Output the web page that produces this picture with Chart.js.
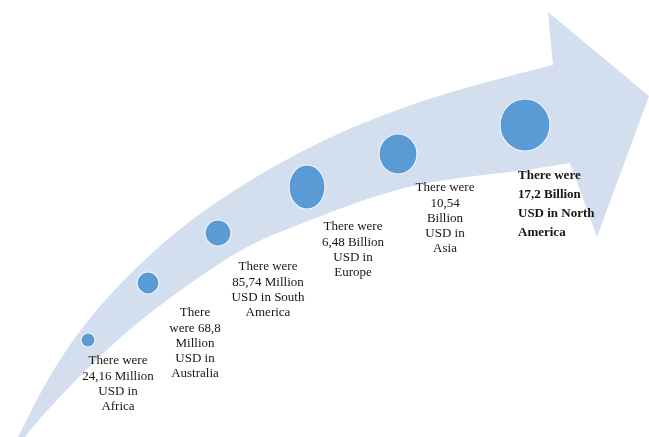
<!DOCTYPE html>
<html>
<head>
<meta charset="utf-8">
<script src="https://cdn.jsdelivr.net/npm/chart.js@4/dist/chart.umd.min.js"></script>
<style>
  html, body { margin: 0; padding: 0; background: #fff; }
  #wrap { width: 649px; height: 437px; }
</style>
</head>
<body>
<div id="wrap"><canvas id="c"></canvas></div>
<script>
// data
const regions = ['Africa', 'Australia', 'South America', 'Europe', 'Asia', 'North America'];
const amounts = ['24,16 Million', '68,8 Million', '85,74 Million', '6,48 Billion', '10,54 Billion', '17,2 Billion'];
const usdMillions = [24.16, 68.8, 85.74, 6480, 10540, 17200];
const labelLines = [
    ['There were', '24,16 Million', 'USD in', 'Africa'],
    ['There', 'were 68,8', 'Million', 'USD in', 'Australia'],
    ['There were', '85,74 Million', 'USD in South', 'America'],
    ['There were', '6,48 Billion', 'USD in', 'Europe'],
    ['There were', '10,54', 'Billion', 'USD in', 'Asia'],
    ['There were', '17,2 Billion', 'USD in North', 'America']
];

// layout (infographic placement along the arrow, in axis units)
const posX = [88, 148, 218, 307, 398, 525];
const posY = [340, 283, 233, 187, 154, 125];
const radX = [7, 11, 13, 18, 19, 25];
const radY = [7, 11, 13, 22, 20, 26];
const labelDx = [30, 47, 50, 46, 47, -7];
const labelDy = [21, 30, 34, 40, 34, 51];

const arrowUpper = [[12, 449], [20, 433], [50, 374], [87, 320], [133, 270], [187, 222],
    [250, 180], [300, 152], [350, 128], [420, 101], [490, 81], [553, 65]];
const arrowHead = [[548, 12], [649, 96], [597, 237], [570, 163]];
const arrowLower = [[520, 171], [440, 179], [373, 196], [300, 224], [250, 244], [200, 276],
    [140, 320], [100, 356], [63, 393], [27, 433], [18, 449]];

function ellipseImg(rx, ry) {
    const cv = document.createElement('canvas');
    cv.width = rx * 2 + 2;
    cv.height = ry * 2 + 2;
    const g = cv.getContext('2d');
    g.beginPath();
    g.ellipse(rx + 1, ry + 1, rx, ry, 0, 0, Math.PI * 2);
    g.fillStyle = '#5b9bd5';
    g.fill();
    g.lineWidth = 1.2;
    g.strokeStyle = '#eef3fa';
    g.stroke();
    return cv;
}

// smooth curve through a list of pixel points (quadratic via midpoints)
function smoothTo(ctx, p) {
    for (let i = 1; i < p.length - 1; i++) {
        const mx = (p[i][0] + p[i + 1][0]) / 2, my = (p[i][1] + p[i + 1][1]) / 2;
        ctx.quadraticCurveTo(p[i][0], p[i][1], mx, my);
    }
    ctx.lineTo(p[p.length - 1][0], p[p.length - 1][1]);
}

const arrowPlugin = {
    id: 'arrow',
    beforeDatasetsDraw(chart) {
        const { ctx, scales: { x, y } } = chart;
        const px = list => list.map(p => [x.getPixelForValue(p[0]), y.getPixelForValue(p[1])]);
        const up = px(arrowUpper), head = px(arrowHead), low = px(arrowLower);
        ctx.save();
        ctx.beginPath();
        ctx.moveTo(up[0][0], up[0][1]);
        smoothTo(ctx, up);
        head.forEach(p => ctx.lineTo(p[0], p[1]));
        ctx.lineTo(low[0][0], low[0][1]);
        smoothTo(ctx, low);
        ctx.closePath();
        ctx.fillStyle = '#d3deef';
        ctx.fill();
        ctx.restore();
    }
};

const labelPlugin = {
    id: 'labels',
    afterDatasetsDraw(chart) {
        const { ctx } = chart;
        const meta = chart.getDatasetMeta(0);
        ctx.save();
        ctx.fillStyle = '#161616';
        ctx.textBaseline = 'middle';
        meta.data.forEach((el, i) => {
            const last = i === labelLines.length - 1;
            ctx.font = (last ? 'bold ' : '') + '13px "Liberation Serif", "Times New Roman", serif';
            ctx.textAlign = last ? 'left' : 'center';
            const lh = last ? 19 : 15.2;
            labelLines[i].forEach((t, j) => {
                ctx.fillText(t, el.x + labelDx[i], el.y + labelDy[i] + j * lh);
            });
        });
        ctx.restore();
    }
};

new Chart(document.getElementById('c'), {
    type: 'bubble',
    data: {
        datasets: [{
            label: 'USD (millions)',
            data: usdMillions.map((v, i) => ({ x: posX[i], y: posY[i], r: radY[i], v: v, name: regions[i], amount: amounts[i] })),
            pointStyle: regions.map((r, i) => ellipseImg(radX[i], radY[i])),
            backgroundColor: '#5b9bd5'
        }]
    },
    options: {
        responsive: true,
        maintainAspectRatio: false,
        animation: false,
        layout: { padding: 0, autoPadding: false },
        plugins: { legend: { display: false }, tooltip: { enabled: false } },
        scales: {
            x: { type: 'linear', min: 0, max: 649, display: false },
            y: { type: 'linear', min: 0, max: 437, reverse: true, display: false }
        }
    },
    plugins: [arrowPlugin, labelPlugin]
});
</script>
</body>
</html>
